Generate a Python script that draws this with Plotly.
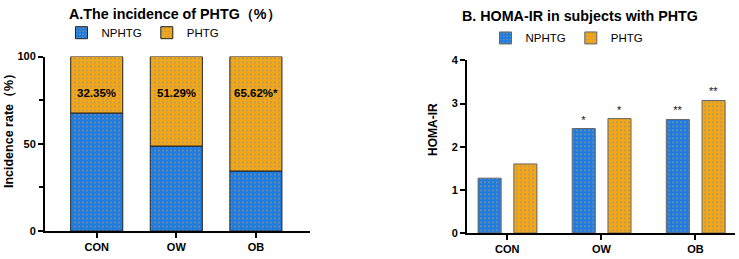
import plotly.graph_objects as go

# ---------------- data ----------------
groups = ["CON", "OW", "OB"]
nphtg_pct = [67.65, 48.71, 34.38]
phtg_pct = [32.35, 51.29, 65.62]
pct_labels = ["32.35%", "51.29%", "65.62%*"]
label_y = [79, 79, 79]

homa_nphtg = [1.27, 2.42, 2.63]
homa_phtg = [1.60, 2.65, 3.07]
sig_nphtg = ["", "*", "**"]
sig_phtg = ["", "*", "**"]

series_names = ["NPHTG", "PHTG"]

# ---------------- styles ----------------
BLUE = "#1C7CE5"
ORANGE = "#F5A614"
FONT = "Liberation Sans, Arial, sans-serif"
W, H = 739, 259

def px_x(p):
    return p / W

def px_y(p):
    return 1 - p / H

blue_pat = dict(shape=".", bgcolor=BLUE, fgcolor="#F0A030", size=4, solidity=0.18)
orange_pat = dict(shape=".", bgcolor=ORANGE, fgcolor="#5A8FD0", size=4, solidity=0.18)

fig = go.Figure()

# Panel A: stacked percentage bars
fig.add_trace(go.Bar(
    x=groups, y=nphtg_pct, name=series_names[0], width=0.654,
    marker=dict(color=BLUE, pattern=blue_pat, line=dict(color="#222", width=1)),
    xaxis="x", yaxis="y", legend="legend", hoverinfo="skip",
))
fig.add_trace(go.Bar(
    x=groups, y=phtg_pct, base=nphtg_pct, name=series_names[1], width=0.654,
    marker=dict(color=ORANGE, pattern=orange_pat, line=dict(color="#222", width=1)),
    xaxis="x", yaxis="y", legend="legend", hoverinfo="skip",
))

# Panel B: grouped HOMA-IR bars
fig.add_trace(go.Bar(
    x=groups, y=homa_nphtg, name=series_names[0], width=0.245, offset=-0.31,
    marker=dict(color=BLUE, pattern=blue_pat, line=dict(color="#666", width=1)),
    text=sig_nphtg, textposition="outside", cliponaxis=False,
    outsidetextfont=dict(family=FONT, size=11, color="#111"),
    xaxis="x2", yaxis="y2", legend="legend2", hoverinfo="skip",
))
fig.add_trace(go.Bar(
    x=groups, y=homa_phtg, name=series_names[1], width=0.245, offset=0.07,
    marker=dict(color=ORANGE, pattern=orange_pat, line=dict(color="#666", width=1)),
    text=sig_phtg, textposition="outside", cliponaxis=False,
    outsidetextfont=dict(family=FONT, size=11, color="#111"),
    xaxis="x2", yaxis="y2", legend="legend2", hoverinfo="skip",
))

axis_common = dict(
    showline=True, linecolor="black", linewidth=2, ticks="outside",
    ticklen=5, tickwidth=2, tickcolor="black", showgrid=False, zeroline=False,
    tickfont=dict(family=FONT, size=11, color="black", weight="bold"),
)

annotations = []
for g, yv, t in zip(groups, label_y, pct_labels):
    annotations.append(dict(
        x=g, y=yv, xref="x", yref="y", text=t, showarrow=False,
        font=dict(family=FONT, size=11.5, color="black", weight="bold"),
    ))
annotations += [
    dict(x=px_x(175), y=px_y(8.5), xref="paper", yref="paper",
         xanchor="center", yanchor="middle",
         text="A.The incidence of PHTG（%）", showarrow=False,
         font=dict(family=FONT, size=14.3, color="black", weight="bold")),
    dict(x=px_x(580), y=px_y(10), xref="paper", yref="paper",
         xanchor="center", yanchor="middle",
         text="B. HOMA-IR in subjects with PHTG", showarrow=False,
         font=dict(family=FONT, size=14.3, color="black", weight="bold")),
    dict(x=px_x(9), y=px_y(128), xref="paper", yref="paper", textangle=-90,
         xanchor="center", yanchor="middle",
         text="Incidence rate（%）", showarrow=False,
         font=dict(family=FONT, size=12.5, color="black", weight="bold")),
    dict(x=px_x(433), y=px_y(130), xref="paper", yref="paper", textangle=-90,
         xanchor="center", yanchor="middle",
         text="HOMA-IR", showarrow=False,
         font=dict(family=FONT, size=12, color="black", weight="bold")),
]

legend_font = dict(family=FONT, size=11.5, color="black")

fig.update_layout(
    width=W, height=H, margin=dict(l=0, r=0, t=0, b=0),
    paper_bgcolor="white", plot_bgcolor="white",
    barmode="overlay", showlegend=True,
    xaxis=dict(domain=[px_x(45), px_x(310)], range=[-0.65, 2.68], anchor="y",
               **axis_common),
    yaxis=dict(domain=[px_y(236), px_y(53)], range=[0, 100], anchor="x",
               tickvals=[0, 50, 100],
               minor=dict(tickvals=[25, 75], ticks="outside", ticklen=4,
                          tickwidth=2, tickcolor="black"),
               **axis_common),
    xaxis2=dict(domain=[px_x(467), px_x(735)], range=[-0.428, 2.42], anchor="y2",
                **axis_common),
    yaxis2=dict(domain=[px_y(238), px_y(57)], range=[0, 4], anchor="x2",
                dtick=1, **axis_common),
    legend=dict(orientation="h", x=px_x(61.5), y=px_y(28), xanchor="left",
                yanchor="middle", font=legend_font, bgcolor="rgba(0,0,0,0)"),
    legend2=dict(orientation="h", x=px_x(485.5), y=px_y(33.5), xanchor="left",
                 yanchor="middle", font=legend_font, bgcolor="rgba(0,0,0,0)"),
    annotations=annotations,
)

fig.write_html("out.html")
